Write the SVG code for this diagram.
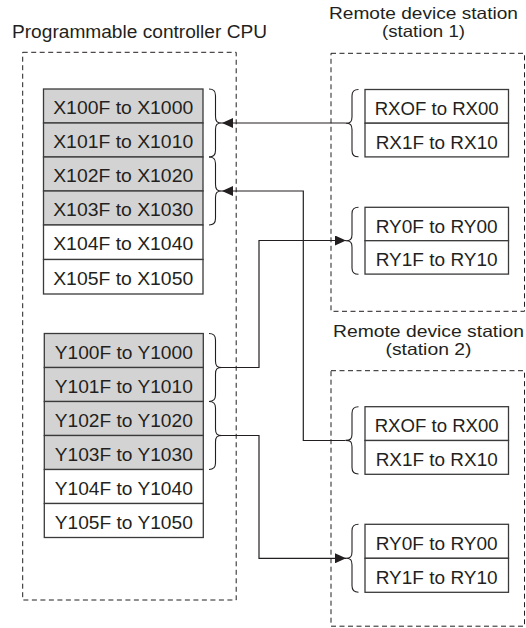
<svg xmlns="http://www.w3.org/2000/svg" xmlns:xlink="http://www.w3.org/1999/xlink" width="526" height="628" viewBox="0 0 526 628">
<style>
text{font-family:"Liberation Sans",Arial,Helvetica,sans-serif;font-size:17.5px;fill:#231f20;text-anchor:middle;}
text.lbl{font-size:16.5px;}
.frame{fill:none;stroke:#231f20;stroke-width:1;stroke-dasharray:5,3.5;}
.reg{stroke:#3a3a3a;stroke-width:1.3;fill:#ffffff;}
.on{fill:#d3d3d3;}
.wire{fill:none;stroke:#231f20;stroke-width:1.2;}
.brace{fill:none;stroke:#231f20;stroke-width:1.1;}
</style>
<defs>
<marker id="arr" markerUnits="userSpaceOnUse" markerWidth="12" markerHeight="10" refX="11" refY="5" orient="auto">
<path d="M0,0 L11,5 L0,10 z" fill="#231f20"/>
</marker>
<path id="rb" d="M0,0 C4,0 6.5,1.5 6.5,6.5 L6.5,27.5 C6.5,32.5 8,34 13,34 C8,34 6.5,35.5 6.5,40.5 L6.5,61.5 C6.5,66.5 4,68 0,68"/>
</defs>

<g id="cpu">
<text x="139.5" y="38" textLength="255" lengthAdjust="spacingAndGlyphs">Programmable controller CPU</text>
<rect class="frame" x="22.7" y="52.3" width="213.5" height="547.7"/>
<g id="x1000"><rect class="reg on" x="43.5" y="89" width="159.5" height="34"/><text x="123.2" y="114.3" textLength="140" lengthAdjust="spacingAndGlyphs">X100F to X1000</text></g>
<g id="x1010"><rect class="reg on" x="43.5" y="123" width="159.5" height="34"/><text x="123.2" y="148.3" textLength="140" lengthAdjust="spacingAndGlyphs">X101F to X1010</text></g>
<g id="x1020"><rect class="reg on" x="43.5" y="157" width="159.5" height="34"/><text x="123.2" y="182.3" textLength="140" lengthAdjust="spacingAndGlyphs">X102F to X1020</text></g>
<g id="x1030"><rect class="reg on" x="43.5" y="191" width="159.5" height="34"/><text x="123.2" y="216.3" textLength="140" lengthAdjust="spacingAndGlyphs">X103F to X1030</text></g>
<g id="x1040"><rect class="reg" x="43.5" y="225" width="159.5" height="34.5"/><text x="123.2" y="250.3" textLength="140" lengthAdjust="spacingAndGlyphs">X104F to X1040</text></g>
<g id="x1050"><rect class="reg" x="43.5" y="259.5" width="159.5" height="34.5"/><text x="123.2" y="284.8" textLength="140" lengthAdjust="spacingAndGlyphs">X105F to X1050</text></g>
<g id="y1000"><rect class="reg on" x="44.3" y="333.5" width="159" height="34"/><text x="123.8" y="358.8" textLength="138" lengthAdjust="spacingAndGlyphs">Y100F to Y1000</text></g>
<g id="y1010"><rect class="reg on" x="44.3" y="367.5" width="159" height="34"/><text x="123.8" y="392.8" textLength="138" lengthAdjust="spacingAndGlyphs">Y101F to Y1010</text></g>
<g id="y1020"><rect class="reg on" x="44.3" y="401.5" width="159" height="34"/><text x="123.8" y="426.8" textLength="138" lengthAdjust="spacingAndGlyphs">Y102F to Y1020</text></g>
<g id="y1030"><rect class="reg on" x="44.3" y="435.5" width="159" height="34"/><text x="123.8" y="460.8" textLength="138" lengthAdjust="spacingAndGlyphs">Y103F to Y1030</text></g>
<g id="y1040"><rect class="reg" x="44.3" y="469.5" width="159" height="34"/><text x="123.8" y="494.8" textLength="138" lengthAdjust="spacingAndGlyphs">Y104F to Y1040</text></g>
<g id="y1050"><rect class="reg" x="44.3" y="503.5" width="159" height="34"/><text x="123.8" y="528.8" textLength="138" lengthAdjust="spacingAndGlyphs">Y105F to Y1050</text></g>
</g>

<g id="station1">
<text class="lbl" x="423.5" y="18.5" textLength="189" lengthAdjust="spacingAndGlyphs">Remote device station</text>
<text class="lbl" x="423.5" y="37" textLength="83" lengthAdjust="spacingAndGlyphs">(station 1)</text>
<rect class="frame" x="331" y="53.3" width="193.5" height="258"/>
<g id="s1-rx00"><rect class="reg" x="365" y="89.5" width="143.5" height="33.7"/><text x="436.7" y="115" textLength="124" lengthAdjust="spacingAndGlyphs">RXOF to RX00</text></g>
<g id="s1-rx10"><rect class="reg" x="365" y="123.2" width="143.5" height="33.7"/><text x="436.7" y="148.7" textLength="122" lengthAdjust="spacingAndGlyphs">RX1F to RX10</text></g>
<g id="s1-ry00"><rect class="reg" x="365" y="207.3" width="143.5" height="33.4"/><text x="436.7" y="232.6" textLength="122" lengthAdjust="spacingAndGlyphs">RY0F to RY00</text></g>
<g id="s1-ry10"><rect class="reg" x="365" y="240.7" width="143.5" height="33.4"/><text x="436.7" y="266" textLength="122" lengthAdjust="spacingAndGlyphs">RY1F to RY10</text></g>
</g>

<g id="station2">
<text class="lbl" x="428.5" y="336.5" textLength="191" lengthAdjust="spacingAndGlyphs">Remote device station</text>
<text class="lbl" x="428.5" y="355" textLength="86" lengthAdjust="spacingAndGlyphs">(station 2)</text>
<rect class="frame" x="331" y="370.7" width="193.5" height="255.5"/>
<g id="s2-rx00"><rect class="reg" x="365" y="406.7" width="143.5" height="33.8"/><text x="436.7" y="432.2" textLength="124" lengthAdjust="spacingAndGlyphs">RXOF to RX00</text></g>
<g id="s2-rx10"><rect class="reg" x="365" y="440.5" width="143.5" height="33.8"/><text x="436.7" y="466" textLength="122" lengthAdjust="spacingAndGlyphs">RX1F to RX10</text></g>
<g id="s2-ry00"><rect class="reg" x="365" y="524.3" width="143.5" height="34"/><text x="436.7" y="549.8" textLength="122" lengthAdjust="spacingAndGlyphs">RY0F to RY00</text></g>
<g id="s2-ry10"><rect class="reg" x="365" y="558.3" width="143.5" height="34"/><text x="436.7" y="583.8" textLength="122" lengthAdjust="spacingAndGlyphs">RY1F to RY10</text></g>
</g>

<g id="braces" class="brace">
<use xlink:href="#rb" transform="translate(209,89)"/>
<use xlink:href="#rb" transform="translate(209,157)"/>
<use xlink:href="#rb" transform="translate(209,333.5)"/>
<use xlink:href="#rb" transform="translate(209,401.5)"/>
<use xlink:href="#rb" transform="translate(358.5,89.5) scale(-1,0.99)"/>
<use xlink:href="#rb" transform="translate(358.5,207.3) scale(-1,0.985)"/>
<use xlink:href="#rb" transform="translate(358.5,406.7) scale(-1,0.99)"/>
<use xlink:href="#rb" transform="translate(358.5,524.3) scale(-1,1)"/>
</g>

<g id="connectors" class="wire">
<path d="M345.5,123 L222,123" marker-end="url(#arr)"/>
<path d="M345.5,440.5 L303.3,440.5 L303.3,191 L222,191" marker-end="url(#arr)"/>
<path d="M222,367.5 L259,367.5 L259,240.5 L346,240.5" marker-end="url(#arr)"/>
<path d="M222,435.5 L259,435.5 L259,558.3 L346,558.3" marker-end="url(#arr)"/>
</g>
</svg>
